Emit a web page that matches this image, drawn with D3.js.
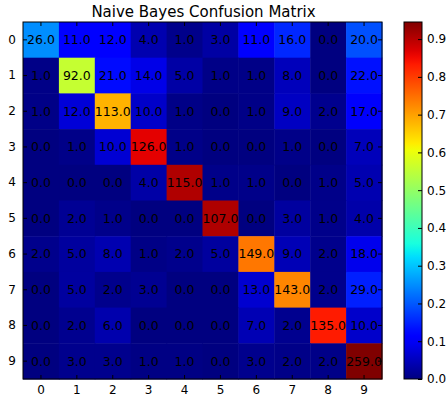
<!DOCTYPE html>
<html><head><meta charset="utf-8">
<script src="https://cdn.jsdelivr.net/npm/d3@7"></script>
<style>body{margin:0;background:#fff}svg{display:block}text{font-family:"DejaVu Sans",sans-serif}</style>
</head><body><svg id="c" width="446" height="398"></svg>
<script>
const title = "Naive Bayes Confusion Matrix";
const classes = ["0","1","2","3","4","5","6","7","8","9"];
const row0 = [26,11,12,4,1,3,11,16,0,20];
const row1 = [1,92,21,14,5,1,1,8,0,22];
const row2 = [1,12,113,10,1,0,1,9,2,17];
const row3 = [0,1,10,126,1,0,0,1,0,7];
const row4 = [0,0,0,4,115,1,1,0,1,5];
const row5 = [0,2,1,0,0,107,0,3,1,4];
const row6 = [2,5,8,1,2,5,149,9,2,18];
const row7 = [0,5,2,3,0,0,13,143,2,29];
const row8 = [0,2,6,0,0,0,7,2,135,10];
const row9 = [0,3,3,1,1,0,3,2,2,259];
const matrix = [row0,row1,row2,row3,row4,row5,row6,row7,row8,row9];
const cbTicks = [0.0,0.1,0.2,0.3,0.4,0.5,0.6,0.7,0.8,0.9];

// matplotlib jet
const rS = d3.scaleLinear().domain([0,0.35,0.66,0.89,1]).range([0,0,1,1,0.5]).clamp(true);
const gS = d3.scaleLinear().domain([0,0.125,0.375,0.64,0.91,1]).range([0,0,1,1,0,0]).clamp(true);
const bS = d3.scaleLinear().domain([0,0.11,0.34,0.65,1]).range([0.5,1,1,0,0]).clamp(true);
const jet = t => d3.rgb(rS(t)*255, gS(t)*255, bS(t)*255).toString();

const norm = matrix.map(r => { const s = d3.sum(r); return r.map(v => v/s); });
const vmax = d3.max(norm.flat());
const vmin = d3.min(norm.flat());
const cnorm = d3.scaleLinear().domain([vmin, vmax]).range([0,1]);

const svg = d3.select("#c");
const L=23, T=22, R=382, B=379;
const x = d3.scaleBand().domain(classes).range([L,R]);
const y = d3.scaleBand().domain(classes).range([T,B]);

svg.append("text").attr("x",(L+R)/2 + 1).attr("y",17).attr("text-anchor","middle")
  .attr("font-size",15).attr("fill","#000").text(title);

const g = svg.append("g");
matrix.forEach((row,i)=>row.forEach((v,j)=>{
  g.append("rect").attr("x",x(classes[j])).attr("y",y(classes[i]))
   .attr("width",x.bandwidth()+0.5).attr("height",y.bandwidth()+0.5)
   .attr("fill",jet(cnorm(norm[i][j])));
}));
matrix.forEach((row,i)=>row.forEach((v,j)=>{
  g.append("text").attr("x",x(classes[j])+x.bandwidth()/2).attr("y",y(classes[i])+y.bandwidth()/2)
   .attr("text-anchor","middle").attr("dy","0.35em").attr("font-size",12.5).attr("fill","#000")
   .text(d3.format(".1f")(v));
}));

svg.append("rect").attr("x",L).attr("y",T).attr("width",R-L).attr("height",B-T)
  .attr("fill","none").attr("stroke","#000").attr("stroke-width",1);

const tl=4;
const axB = d3.axisBottom(x).tickSizeInner(-tl).tickSizeOuter(0).tickPadding(6);
svg.append("g").attr("transform",`translate(0,${B})`).call(axB)
  .call(s=>s.select(".domain").remove())
  .call(s=>s.selectAll("text").attr("font-size",12).attr("font-family","DejaVu Sans"));
const axT = d3.axisTop(x).tickSizeInner(-tl).tickSizeOuter(0).tickFormat("");
svg.append("g").attr("transform",`translate(0,${T})`).call(axT).call(s=>s.select(".domain").remove());
const axL = d3.axisLeft(y).tickSizeInner(-tl).tickSizeOuter(0).tickPadding(7);
svg.append("g").attr("transform",`translate(${L},0)`).call(axL)
  .call(s=>s.select(".domain").remove())
  .call(s=>s.selectAll("text").attr("font-size",12).attr("font-family","DejaVu Sans"));
const axR = d3.axisRight(y).tickSizeInner(-tl).tickSizeOuter(0).tickFormat("");
svg.append("g").attr("transform",`translate(${R},0)`).call(axR).call(s=>s.select(".domain").remove());

// colorbar
const cbL=404, cbR=422;
const cy = d3.scaleLinear().domain([vmin, vmax]).range([B,T]);
const defs = svg.append("defs");
const grad = defs.append("linearGradient").attr("id","jetg").attr("x1",0).attr("y1",1).attr("x2",0).attr("y2",0);
d3.range(0,1.0001,0.02).forEach(t=>grad.append("stop").attr("offset",t).attr("stop-color",jet(t)));
svg.append("rect").attr("x",cbL).attr("y",T).attr("width",cbR-cbL).attr("height",B-T).attr("fill","url(#jetg)")
  .attr("stroke","#000").attr("stroke-width",1);
const axC = d3.axisRight(cy).tickValues(cbTicks).tickFormat(d3.format(".1f")).tickSizeInner(-tl).tickSizeOuter(0).tickPadding(5);
svg.append("g").attr("transform",`translate(${cbR},0)`).call(axC)
  .call(s=>s.select(".domain").remove())
  .call(s=>s.selectAll("text").attr("font-size",12).attr("font-family","DejaVu Sans"));
</script></body></html>
